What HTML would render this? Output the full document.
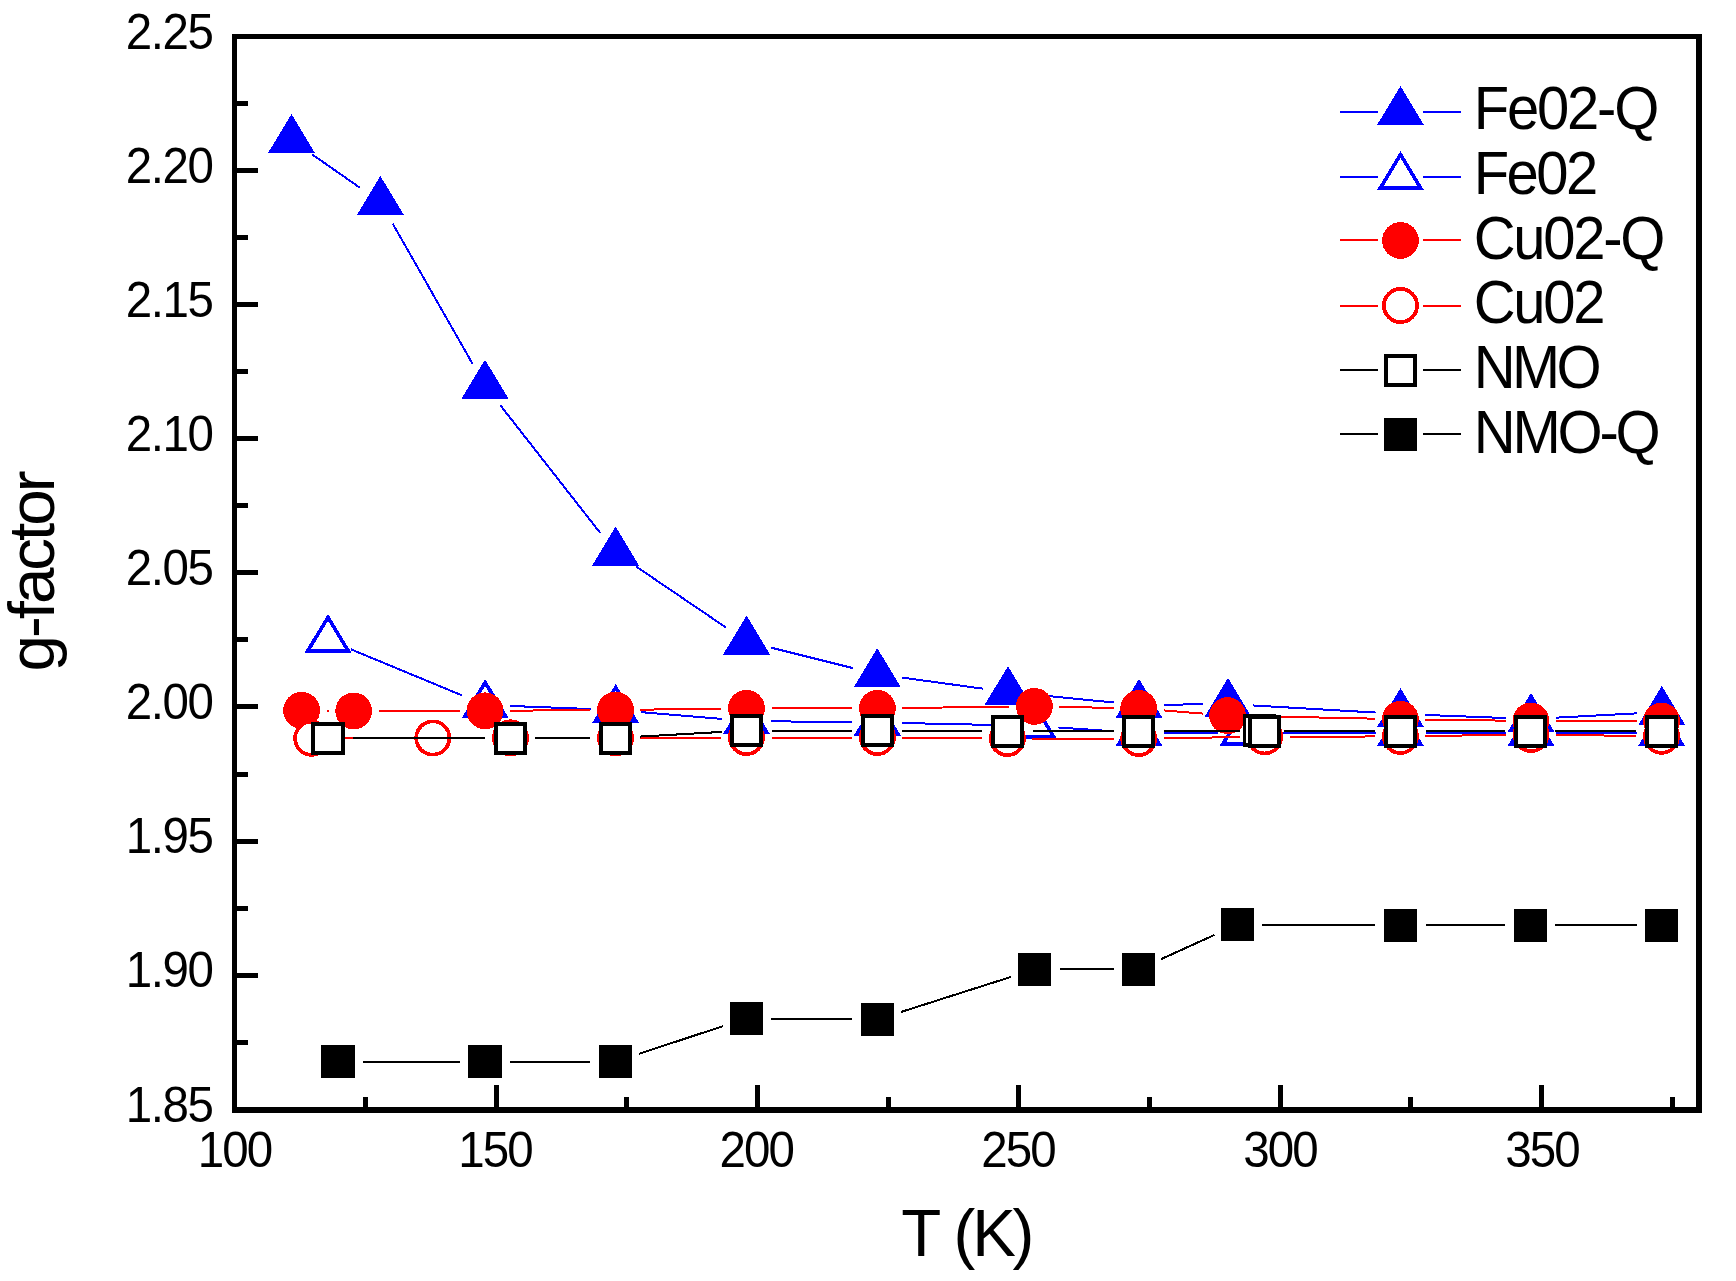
<!DOCTYPE html>
<html lang="en">
<head>
<meta charset="utf-8">
<title>g-factor vs T (K)</title>
<style>
html,body{margin:0;padding:0;background:#fff;}
body{width:1736px;height:1281px;overflow:hidden;}
svg{display:block;}
</style>
</head>
<body>
<svg width="1736" height="1281" viewBox="0 0 1736 1281">
<rect x="0" y="0" width="1736" height="1281" fill="#fff"/>
<g shape-rendering="crispEdges">
<line x1="312.01" y1="154.3" x2="359.89" y2="187.7" stroke="#0000ff" stroke-width="2"/>
<line x1="392.77" y1="223.72" x2="472.63" y2="363.98" stroke="#0000ff" stroke-width="2"/>
<line x1="500.41" y1="405.39" x2="600.19" y2="532.91" stroke="#0000ff" stroke-width="2"/>
<line x1="636.29" y1="566.64" x2="725.91" y2="627.46" stroke="#0000ff" stroke-width="2"/>
<line x1="770.85" y1="647.57" x2="853.05" y2="668.13" stroke="#0000ff" stroke-width="2"/>
<line x1="902.07" y1="677.59" x2="983.23" y2="688.71" stroke="#0000ff" stroke-width="2"/>
<line x1="1032.88" y1="694.55" x2="1114.12" y2="702.55" stroke="#0000ff" stroke-width="2"/>
<line x1="1164" y1="704.72" x2="1203" y2="704.28" stroke="#0000ff" stroke-width="2"/>
<line x1="1252.96" y1="705.45" x2="1375.54" y2="712.55" stroke="#0000ff" stroke-width="2"/>
<line x1="1425.48" y1="714.96" x2="1506.02" y2="718.04" stroke="#0000ff" stroke-width="2"/>
<line x1="1555.96" y1="717.66" x2="1636.84" y2="713.34" stroke="#0000ff" stroke-width="2"/>
<polygon points="291.5,114 268,153 315,153" fill="#0000ff"/>
<polygon points="380.4,176 356.9,215 403.9,215" fill="#0000ff"/>
<polygon points="485,359.7 461.5,398.7 508.5,398.7" fill="#0000ff"/>
<polygon points="615.6,526.6 592.1,565.6 639.1,565.6" fill="#0000ff"/>
<polygon points="746.6,615.5 723.1,654.5 770.1,654.5" fill="#0000ff"/>
<polygon points="877.3,648.2 853.8,687.2 900.8,687.2" fill="#0000ff"/>
<polygon points="1008,666.1 984.5,705.1 1031.5,705.1" fill="#0000ff"/>
<polygon points="1139,679 1115.5,718 1162.5,718" fill="#0000ff"/>
<polygon points="1228,678 1204.5,717 1251.5,717" fill="#0000ff"/>
<polygon points="1400.5,688 1377,727 1424,727" fill="#0000ff"/>
<polygon points="1531,693 1507.5,732 1554.5,732" fill="#0000ff"/>
<polygon points="1661.8,686 1638.3,725 1685.3,725" fill="#0000ff"/>
<line x1="351.09" y1="649.38" x2="462.11" y2="695.42" stroke="#0000ff" stroke-width="2"/>
<line x1="510.18" y1="705.96" x2="590.72" y2="709.04" stroke="#0000ff" stroke-width="2"/>
<line x1="640.61" y1="712.1" x2="721.59" y2="718.9" stroke="#0000ff" stroke-width="2"/>
<line x1="771.5" y1="721.29" x2="852.4" y2="722.21" stroke="#0000ff" stroke-width="2"/>
<line x1="902.39" y1="723.03" x2="1008.51" y2="725.27" stroke="#0000ff" stroke-width="2"/>
<line x1="1058.44" y1="727.5" x2="1114.06" y2="731.3" stroke="#0000ff" stroke-width="2"/>
<line x1="1164" y1="733" x2="1218.1" y2="733" stroke="#0000ff" stroke-width="2"/>
<line x1="1268.1" y1="733" x2="1375.5" y2="733" stroke="#0000ff" stroke-width="2"/>
<line x1="1425.5" y1="733" x2="1506" y2="733" stroke="#0000ff" stroke-width="2"/>
<line x1="1556" y1="733" x2="1636.7" y2="733" stroke="#0000ff" stroke-width="2"/>
<polygon points="328,613.8 304.5,652.8 351.5,652.8" fill="#0000ff"/>
<polygon points="328,620.85 310.87,649.28 345.13,649.28" fill="#fff"/>
<polygon points="485.2,679 461.7,718 508.7,718" fill="#0000ff"/>
<polygon points="485.2,686.05 468.07,714.48 502.33,714.48" fill="#fff"/>
<polygon points="615.7,684 592.2,723 639.2,723" fill="#0000ff"/>
<polygon points="615.7,691.05 598.57,719.48 632.83,719.48" fill="#fff"/>
<polygon points="746.5,695 723,734 770,734" fill="#0000ff"/>
<polygon points="746.5,702.05 729.37,730.48 763.63,730.48" fill="#fff"/>
<polygon points="877.4,696.5 853.9,735.5 900.9,735.5" fill="#0000ff"/>
<polygon points="877.4,703.55 860.27,731.98 894.53,731.98" fill="#fff"/>
<polygon points="1033.5,699.8 1010,738.8 1057,738.8" fill="#0000ff"/>
<polygon points="1033.5,706.85 1016.37,735.28 1050.63,735.28" fill="#fff"/>
<polygon points="1139,707 1115.5,746 1162.5,746" fill="#0000ff"/>
<polygon points="1139,714.05 1121.87,742.48 1156.13,742.48" fill="#fff"/>
<polygon points="1243.1,707 1219.6,746 1266.6,746" fill="#0000ff"/>
<polygon points="1243.1,714.05 1225.97,742.48 1260.23,742.48" fill="#fff"/>
<polygon points="1400.5,707 1377,746 1424,746" fill="#0000ff"/>
<polygon points="1400.5,714.05 1383.37,742.48 1417.63,742.48" fill="#fff"/>
<polygon points="1531,707 1507.5,746 1554.5,746" fill="#0000ff"/>
<polygon points="1531,714.05 1513.87,742.48 1548.13,742.48" fill="#fff"/>
<polygon points="1661.7,707 1638.2,746 1685.2,746" fill="#0000ff"/>
<polygon points="1661.7,714.05 1644.57,742.48 1678.83,742.48" fill="#fff"/>
<line x1="326.6" y1="710.69" x2="328.7" y2="710.71" stroke="#ff0000" stroke-width="2"/>
<line x1="378.7" y1="710.96" x2="460" y2="710.84" stroke="#ff0000" stroke-width="2"/>
<line x1="510" y1="710.65" x2="590.5" y2="710.15" stroke="#ff0000" stroke-width="2"/>
<line x1="640.5" y1="709.68" x2="721.5" y2="708.62" stroke="#ff0000" stroke-width="2"/>
<line x1="771.5" y1="708.3" x2="852.4" y2="708.3" stroke="#ff0000" stroke-width="2"/>
<line x1="902.4" y1="708" x2="1009.4" y2="706.7" stroke="#ff0000" stroke-width="2"/>
<line x1="1059.4" y1="706.88" x2="1113.7" y2="707.92" stroke="#ff0000" stroke-width="2"/>
<line x1="1163.62" y1="710.42" x2="1202.68" y2="713.58" stroke="#ff0000" stroke-width="2"/>
<line x1="1252.59" y1="716.12" x2="1375.41" y2="718.68" stroke="#ff0000" stroke-width="2"/>
<line x1="1425.4" y1="719.54" x2="1505.9" y2="720.66" stroke="#ff0000" stroke-width="2"/>
<line x1="1555.9" y1="721" x2="1636.5" y2="721" stroke="#ff0000" stroke-width="2"/>
<circle cx="301.6" cy="710.4" r="18.4" fill="#ff0000"/>
<circle cx="353.7" cy="711" r="18.4" fill="#ff0000"/>
<circle cx="485" cy="710.8" r="18.4" fill="#ff0000"/>
<circle cx="615.5" cy="710" r="18.4" fill="#ff0000"/>
<circle cx="746.5" cy="708.3" r="18.4" fill="#ff0000"/>
<circle cx="877.4" cy="708.3" r="18.4" fill="#ff0000"/>
<circle cx="1034.4" cy="706.4" r="18.4" fill="#ff0000"/>
<circle cx="1138.7" cy="708.4" r="18.4" fill="#ff0000"/>
<circle cx="1227.6" cy="715.6" r="18.4" fill="#ff0000"/>
<circle cx="1400.4" cy="719.2" r="18.4" fill="#ff0000"/>
<circle cx="1530.9" cy="721" r="18.4" fill="#ff0000"/>
<circle cx="1661.5" cy="721" r="18.4" fill="#ff0000"/>
<line x1="336.7" y1="738.24" x2="407.8" y2="738.06" stroke="#ff0000" stroke-width="2"/>
<line x1="457.8" y1="737.94" x2="485.5" y2="737.86" stroke="#ff0000" stroke-width="2"/>
<line x1="535.5" y1="737.85" x2="590.5" y2="737.95" stroke="#ff0000" stroke-width="2"/>
<line x1="640.5" y1="737.9" x2="721.5" y2="737.6" stroke="#ff0000" stroke-width="2"/>
<line x1="771.5" y1="737.5" x2="852.4" y2="737.5" stroke="#ff0000" stroke-width="2"/>
<line x1="902.4" y1="737.69" x2="982.4" y2="738.31" stroke="#ff0000" stroke-width="2"/>
<line x1="1032.4" y1="738.5" x2="1113.7" y2="738.5" stroke="#ff0000" stroke-width="2"/>
<line x1="1163.7" y1="738.16" x2="1239.7" y2="737.14" stroke="#ff0000" stroke-width="2"/>
<line x1="1289.7" y1="736.73" x2="1375.4" y2="736.47" stroke="#ff0000" stroke-width="2"/>
<line x1="1425.4" y1="736.04" x2="1506" y2="734.86" stroke="#ff0000" stroke-width="2"/>
<line x1="1556" y1="734.84" x2="1636.5" y2="735.96" stroke="#ff0000" stroke-width="2"/>
<circle cx="311.7" cy="738.3" r="16.6" fill="#fff" stroke="#ff0000" stroke-width="3.7"/>
<circle cx="432.8" cy="738" r="16.6" fill="#fff" stroke="#ff0000" stroke-width="3.7"/>
<circle cx="510.5" cy="737.8" r="16.6" fill="#fff" stroke="#ff0000" stroke-width="3.7"/>
<circle cx="615.5" cy="738" r="16.6" fill="#fff" stroke="#ff0000" stroke-width="3.7"/>
<circle cx="746.5" cy="737.5" r="16.6" fill="#fff" stroke="#ff0000" stroke-width="3.7"/>
<circle cx="877.4" cy="737.5" r="16.6" fill="#fff" stroke="#ff0000" stroke-width="3.7"/>
<circle cx="1007.4" cy="738.5" r="16.6" fill="#fff" stroke="#ff0000" stroke-width="3.7"/>
<circle cx="1138.7" cy="738.5" r="16.6" fill="#fff" stroke="#ff0000" stroke-width="3.7"/>
<circle cx="1264.7" cy="736.8" r="16.6" fill="#fff" stroke="#ff0000" stroke-width="3.7"/>
<circle cx="1400.4" cy="736.4" r="16.6" fill="#fff" stroke="#ff0000" stroke-width="3.7"/>
<circle cx="1531" cy="734.5" r="16.6" fill="#fff" stroke="#ff0000" stroke-width="3.7"/>
<circle cx="1661.5" cy="736.3" r="16.6" fill="#fff" stroke="#ff0000" stroke-width="3.7"/>
<line x1="353" y1="738" x2="485.4" y2="738" stroke="#000000" stroke-width="2"/>
<line x1="535.4" y1="738" x2="590.4" y2="738" stroke="#000000" stroke-width="2"/>
<line x1="640.36" y1="736.57" x2="721.64" y2="731.93" stroke="#000000" stroke-width="2"/>
<line x1="771.6" y1="730.5" x2="852.4" y2="730.5" stroke="#000000" stroke-width="2"/>
<line x1="902.4" y1="730.6" x2="982.5" y2="730.9" stroke="#000000" stroke-width="2"/>
<line x1="1032.5" y1="731" x2="1113.6" y2="731" stroke="#000000" stroke-width="2"/>
<line x1="1163.6" y1="731" x2="1239.5" y2="731" stroke="#000000" stroke-width="2"/>
<line x1="1284.5" y1="730.59" x2="1375.5" y2="730.91" stroke="#000000" stroke-width="2"/>
<line x1="1425.5" y1="731" x2="1505.4" y2="731" stroke="#000000" stroke-width="2"/>
<line x1="1555.4" y1="731" x2="1636.4" y2="731" stroke="#000000" stroke-width="2"/>
<rect x="313.3" y="723.7" width="29.4" height="29.4" fill="#fff" stroke="#000000" stroke-width="3.8"/>
<rect x="495.7" y="723.7" width="29.4" height="29.4" fill="#fff" stroke="#000000" stroke-width="3.8"/>
<rect x="600.7" y="723.7" width="29.4" height="29.4" fill="#fff" stroke="#000000" stroke-width="3.8"/>
<rect x="731.9" y="715.8" width="29.4" height="29.4" fill="#fff" stroke="#000000" stroke-width="3.8"/>
<rect x="862.7" y="715.8" width="29.4" height="29.4" fill="#fff" stroke="#000000" stroke-width="3.8"/>
<rect x="992.8" y="716.8" width="29.4" height="29.4" fill="#fff" stroke="#000000" stroke-width="3.8"/>
<rect x="1123.9" y="716.8" width="29.4" height="29.4" fill="#fff" stroke="#000000" stroke-width="3.8"/>
<rect x="1244.5" y="715.8" width="29.4" height="29.4" fill="#fff" stroke="#000000" stroke-width="3.8"/>
<rect x="1249.8" y="716.8" width="29.4" height="29.4" fill="#fff" stroke="#000000" stroke-width="3.8"/>
<rect x="1385.8" y="716.8" width="29.4" height="29.4" fill="#fff" stroke="#000000" stroke-width="3.8"/>
<rect x="1515.7" y="716.8" width="29.4" height="29.4" fill="#fff" stroke="#000000" stroke-width="3.8"/>
<rect x="1646.7" y="716.8" width="29.4" height="29.4" fill="#fff" stroke="#000000" stroke-width="3.8"/>
<line x1="363" y1="1061.6" x2="459.9" y2="1061.6" stroke="#000000" stroke-width="2"/>
<line x1="509.9" y1="1061.6" x2="590.4" y2="1061.6" stroke="#000000" stroke-width="2"/>
<line x1="639.14" y1="1053.78" x2="722.76" y2="1026.22" stroke="#000000" stroke-width="2"/>
<line x1="771.5" y1="1018.61" x2="852.4" y2="1019.29" stroke="#000000" stroke-width="2"/>
<line x1="901.22" y1="1011.9" x2="1010.68" y2="977" stroke="#000000" stroke-width="2"/>
<line x1="1059.5" y1="969.4" x2="1113.5" y2="969.4" stroke="#000000" stroke-width="2"/>
<line x1="1161.26" y1="959.07" x2="1214.64" y2="934.83" stroke="#000000" stroke-width="2"/>
<line x1="1262.4" y1="924.64" x2="1375.5" y2="925.26" stroke="#000000" stroke-width="2"/>
<line x1="1425.5" y1="925.4" x2="1505.4" y2="925.4" stroke="#000000" stroke-width="2"/>
<line x1="1555.4" y1="925.4" x2="1636.6" y2="925.4" stroke="#000000" stroke-width="2"/>
<rect x="321.2" y="1045" width="33.6" height="33.2" fill="#000000"/>
<rect x="468.1" y="1045" width="33.6" height="33.2" fill="#000000"/>
<rect x="598.6" y="1045" width="33.6" height="33.2" fill="#000000"/>
<rect x="729.7" y="1001.8" width="33.6" height="33.2" fill="#000000"/>
<rect x="860.6" y="1002.9" width="33.6" height="33.2" fill="#000000"/>
<rect x="1017.7" y="952.8" width="33.6" height="33.2" fill="#000000"/>
<rect x="1121.7" y="952.8" width="33.6" height="33.2" fill="#000000"/>
<rect x="1220.6" y="907.9" width="33.6" height="33.2" fill="#000000"/>
<rect x="1383.7" y="908.8" width="33.6" height="33.2" fill="#000000"/>
<rect x="1513.6" y="908.8" width="33.6" height="33.2" fill="#000000"/>
<rect x="1644.8" y="908.8" width="33.6" height="33.2" fill="#000000"/>
<rect x="1340" y="111" width="38" height="2" fill="#0000ff"/>
<rect x="1423" y="111" width="38" height="2" fill="#0000ff"/>
<polygon points="1400.5,86 1377,125 1424,125" fill="#0000ff"/>
<rect x="1340" y="176" width="38" height="2" fill="#0000ff"/>
<rect x="1423" y="176" width="38" height="2" fill="#0000ff"/>
<polygon points="1400.5,151 1377,190 1424,190" fill="#0000ff"/>
<polygon points="1400.5,158.05 1383.37,186.48 1417.63,186.48" fill="#fff"/>
<rect x="1340" y="239" width="38" height="2" fill="#ff0000"/>
<rect x="1423" y="239" width="38" height="2" fill="#ff0000"/>
<circle cx="1400.5" cy="240.5" r="18.4" fill="#ff0000"/>
<rect x="1340" y="305" width="38" height="2" fill="#ff0000"/>
<rect x="1423" y="305" width="38" height="2" fill="#ff0000"/>
<circle cx="1400.5" cy="305.5" r="16.6" fill="#fff" stroke="#ff0000" stroke-width="3.7"/>
<rect x="1340" y="369" width="38" height="2" fill="#000000"/>
<rect x="1423" y="369" width="38" height="2" fill="#000000"/>
<rect x="1385.8" y="355.8" width="29.4" height="29.4" fill="#fff" stroke="#000000" stroke-width="3.8"/>
<rect x="1340" y="433" width="38" height="2" fill="#000000"/>
<rect x="1423" y="433" width="38" height="2" fill="#000000"/>
<rect x="1383.7" y="417.9" width="33.6" height="33.2" fill="#000000"/>
<rect x="232" y="34" width="1470" height="5"/>
<rect x="232" y="34" width="5" height="1079"/>
<rect x="1696" y="34" width="6" height="1079"/>
<rect x="232" y="1107" width="1470" height="6"/>
<rect x="237" y="168" width="21" height="5"/>
<rect x="237" y="302" width="21" height="5"/>
<rect x="237" y="436" width="21" height="5"/>
<rect x="237" y="570" width="21" height="5"/>
<rect x="237" y="704" width="21" height="5"/>
<rect x="237" y="839" width="21" height="5"/>
<rect x="237" y="973" width="21" height="5"/>
<rect x="237" y="101" width="11" height="5"/>
<rect x="237" y="235" width="11" height="5"/>
<rect x="237" y="369" width="11" height="5"/>
<rect x="237" y="503" width="11" height="5"/>
<rect x="237" y="637" width="11" height="5"/>
<rect x="237" y="772" width="11" height="5"/>
<rect x="237" y="906" width="11" height="5"/>
<rect x="237" y="1040" width="11" height="5"/>
<rect x="494" y="1085" width="5" height="22"/>
<rect x="755" y="1085" width="5" height="22"/>
<rect x="1016" y="1085" width="5" height="22"/>
<rect x="1278" y="1085" width="5" height="22"/>
<rect x="1539" y="1085" width="5" height="22"/>
<rect x="363" y="1097" width="5" height="10"/>
<rect x="624" y="1097" width="5" height="10"/>
<rect x="886" y="1097" width="5" height="10"/>
<rect x="1147" y="1097" width="5" height="10"/>
<rect x="1408" y="1097" width="5" height="10"/>
<rect x="1670" y="1097" width="5" height="10"/>
</g>
<g font-family="'Liberation Sans', Arial, sans-serif" fill="#000">
<text transform="translate(212.6 48.7) scale(1 1.04)" font-size="47.5" letter-spacing="-1.4" text-anchor="end">2.25</text>
<text transform="translate(212.6 182.8) scale(1 1.04)" font-size="47.5" letter-spacing="-1.4" text-anchor="end">2.20</text>
<text transform="translate(212.6 316.9) scale(1 1.04)" font-size="47.5" letter-spacing="-1.4" text-anchor="end">2.15</text>
<text transform="translate(212.6 451) scale(1 1.04)" font-size="47.5" letter-spacing="-1.4" text-anchor="end">2.10</text>
<text transform="translate(212.6 585.1) scale(1 1.04)" font-size="47.5" letter-spacing="-1.4" text-anchor="end">2.05</text>
<text transform="translate(212.6 719.2) scale(1 1.04)" font-size="47.5" letter-spacing="-1.4" text-anchor="end">2.00</text>
<text transform="translate(212.6 853.3) scale(1 1.04)" font-size="47.5" letter-spacing="-1.4" text-anchor="end">1.95</text>
<text transform="translate(212.6 987.4) scale(1 1.04)" font-size="47.5" letter-spacing="-1.4" text-anchor="end">1.90</text>
<text transform="translate(212.6 1121.5) scale(1 1.04)" font-size="47.5" letter-spacing="-1.4" text-anchor="end">1.85</text>
<text transform="translate(234.4 1167) scale(1 1.04)" font-size="47.5" letter-spacing="-1.9" text-anchor="middle">100</text>
<text transform="translate(495 1167) scale(1 1.04)" font-size="47.5" letter-spacing="-1.9" text-anchor="middle">150</text>
<text transform="translate(756.3 1167) scale(1 1.04)" font-size="47.5" letter-spacing="-1.9" text-anchor="middle">200</text>
<text transform="translate(1018.1 1167) scale(1 1.04)" font-size="47.5" letter-spacing="-1.9" text-anchor="middle">250</text>
<text transform="translate(1279.9 1167) scale(1 1.04)" font-size="47.5" letter-spacing="-1.9" text-anchor="middle">300</text>
<text transform="translate(1542.1 1167) scale(1 1.04)" font-size="47.5" letter-spacing="-1.9" text-anchor="middle">350</text>
<text transform="translate(1473.7 128.7) scale(1 1.04)" font-size="58" letter-spacing="-2.2" text-anchor="start">Fe02-Q</text>
<text transform="translate(1473.7 193.7) scale(1 1.04)" font-size="58" letter-spacing="-2.5" text-anchor="start">Fe02</text>
<text transform="translate(1473.7 259.4) scale(1 1.04)" font-size="58" letter-spacing="-2.26" text-anchor="start">Cu02-Q</text>
<text transform="translate(1473.7 323) scale(1 1.04)" font-size="58" letter-spacing="-2.3" text-anchor="start">Cu02</text>
<text transform="translate(1473.7 387.6) scale(1 1.04)" font-size="58" letter-spacing="-3.7" text-anchor="start">NMO</text>
<text transform="translate(1473.7 453.1) scale(1 1.04)" font-size="58" letter-spacing="-3.2" text-anchor="start">NMO-Q</text>
<text transform="translate(901.3 1256) scale(1 1.025)" font-size="65.5" letter-spacing="-3.25" word-spacing="1.8" text-anchor="start">T (K)</text>
<text transform="translate(54 671.5) rotate(-90) scale(1 1.0)" font-size="65.5" letter-spacing="-3" text-anchor="start">g-factor</text>
</g>
</svg>
</body>
</html>
